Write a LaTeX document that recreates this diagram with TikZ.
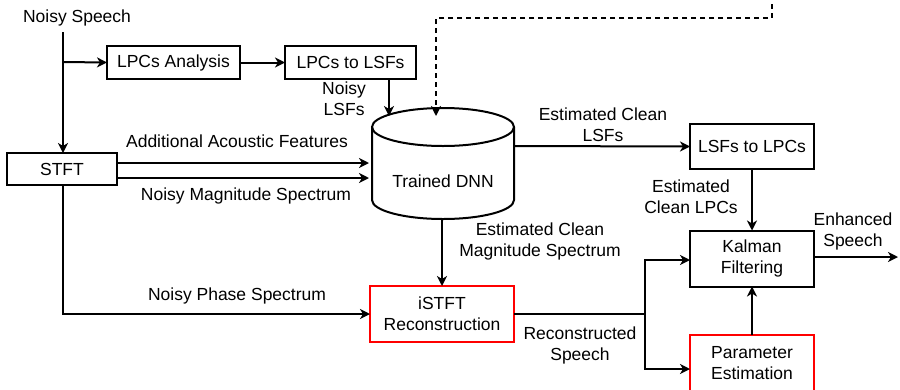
\documentclass[tikz,border=0pt]{standalone}
\usepackage{fontspec}
\setmainfont{Liberation Sans}
\usetikzlibrary{arrows.meta}
\begin{document}
\begin{tikzpicture}[x=1pt,y=-1pt,
  every node/.style={font=\fontsize{17.5}{21}\selectfont, inner sep=0pt, outer sep=0pt},
  box/.style={draw=black, line width=2pt, align=center},
  redbox/.style={draw=red, line width=2pt, align=center},
  lbl/.style={align=center},
  conn/.style={line width=2pt},
  arr/.style={line width=2pt, -{Stealth[length=10pt,width=10pt,inset=3pt]}}
]
\useasboundingbox (0,0) rectangle (900,389);
\clip (0,0) rectangle (900,389);

% nodes
\node (ns) at (77,18) {Noisy Speech};
\node[box, minimum width=133pt, minimum height=33pt] (lpca) at (173.5,62.5) {LPCs Analysis};
\node[box, minimum width=131pt, minimum height=33pt] (lpcl) at (350.5,62.5) {LPCs to LSFs};
\node[box, minimum width=110pt, minimum height=32pt] (stft) at (62,169) {STFT};
\node[minimum width=142pt, minimum height=112pt] (dnn) at (443,163.5) {};
\node[box, minimum width=124pt, minimum height=45pt] (lsf2lpc) at (752,146.5) {LSFs to LPCs};
\node[box, minimum width=124pt, minimum height=56pt] (kalman) at (752,258.5) {Kalman\\Filtering};
\node[redbox, minimum width=124pt, minimum height=56pt] (param) at (752,363) {Parameter\\Estimation};
\node[redbox, minimum width=144pt, minimum height=56pt] (istft) at (442,314) {iSTFT\\Reconstruction};

% cylinder
\draw[line width=2pt] (372,127) -- (372,200) arc[start angle=180, end angle=0, x radius=71, y radius=19] -- (514,127);
\draw[line width=2pt] (443,127) ellipse[x radius=71, y radius=19];
\node (dnntext) at (443,181) {Trained DNN};

% coordinates
\coordinate (b0) at (63,32);
\coordinate (b1) at (63,62);
\coordinate (b2) at (63,314);
\coordinate (j) at (645,314);
\coordinate (jt) at (645,260);
\coordinate (jb) at (645,369);
\coordinate (d0) at (772,-5);
\coordinate (d1) at (772,18);
\coordinate (d2) at (436,18);
\coordinate (dt) at (436,116);
\coordinate (lt) at (389,116);
\coordinate (out) at (898,257);

% connectors
\draw[arr] (b0) -- (b0 |- stft.north);
\draw[arr] (b1) -- (lpca.west);
\draw[arr] (lpca) -- (lpcl);
\draw[arr] (lpcl.south -| lt) -- (lt);
\draw[arr, dash pattern=on 5pt off 4pt] (d0) -- (d1) -- (d2) -- (dt);
\draw[arr] (stft.east |- 0,163) -- (369,163);
\draw[arr] (stft.east |- 0,178) -- (369,178);
\draw[arr] (stft.south -| b2) -- (b2) -- (istft.west);
\draw[arr] (dnn.south -| 442,0) -- (istft.north);
\draw[arr] (514,146) -- (lsf2lpc.west);
\draw[arr] (lsf2lpc.south) -- (kalman.north);
\draw[conn] (istft.east) -- (j);
\draw[arr] (j) -- (jt) -- (kalman.west |- jt);
\draw[arr] (j) -- (jb) -- (param.west |- jb);
\draw[arr] (param.north) -- (kalman.south);
\draw[arr] (kalman.east |- out) -- (out);

% labels
\node[lbl, anchor=east] at (366,99) {Noisy\\LSFs};
\node[lbl] at (237,141) {Additional Acoustic Features};
\node[lbl] at (246,196) {Noisy Magnitude Spectrum};
\node[lbl] at (237,296) {Noisy Phase Spectrum};
\node[lbl] at (603,125) {Estimated Clean\\LSFs};
\node[lbl] at (540,241) {Estimated Clean\\Magnitude Spectrum};
\node[lbl] at (580,345) {Reconstructed\\Speech};
\node[lbl] at (691,197) {Estimated\\Clean LPCs};
\node[lbl] at (853,231) {Enhanced\\Speech};
\end{tikzpicture}
\end{document}
